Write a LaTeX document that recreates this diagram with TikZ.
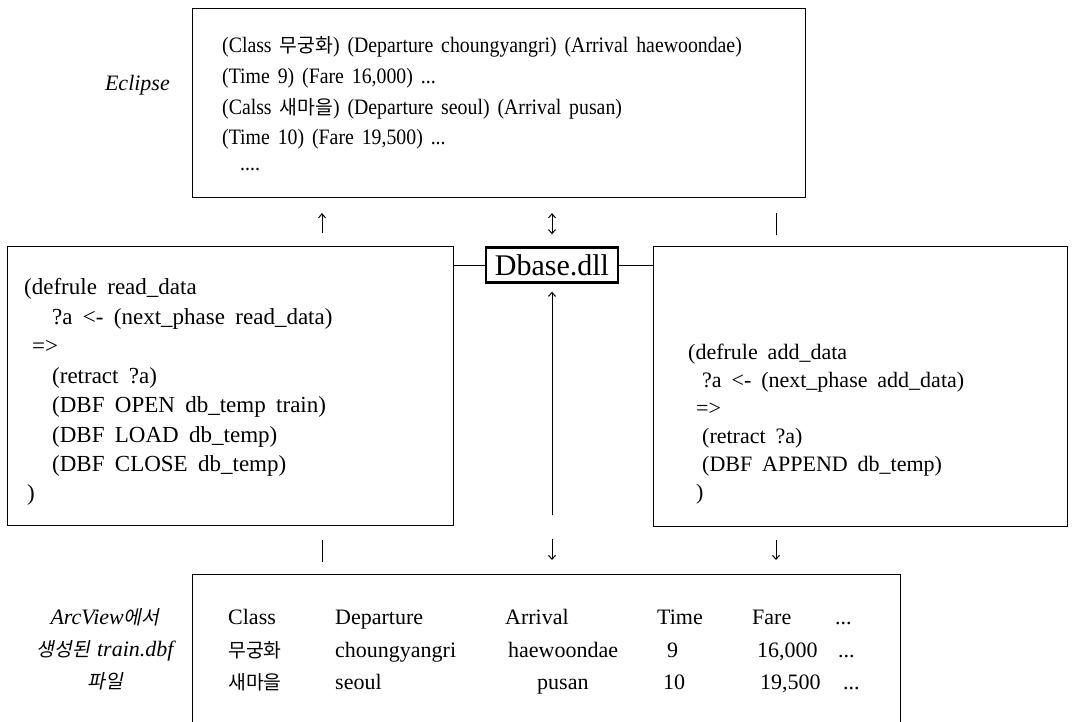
\documentclass[tikz,border=0pt]{standalone}
\usepackage{fontspec}
\setmainfont{Liberation Serif}[WordSpace=1.3]
\newfontfamily\topfont{Liberation Serif}[FakeStretch=0.9, WordSpace=1.6]
\newfontfamily\codefont{Liberation Serif}[WordSpace=2.2]
\newfontfamily\rcodefont{Liberation Serif}[WordSpace=1.8]
\newfontfamily\krfont{Noto Sans CJK KR}[Scale=0.88]
\newfontfamily\kritfont{Noto Sans CJK KR}[Scale=0.88, FakeSlant=0.2]
\newcommand{\ko}[1]{{\krfont #1}}
\newcommand{\koi}[1]{{\kritfont #1}}
\usetikzlibrary{arrows.meta}
\tikzset{
  box/.style={draw, line width=1.1pt, anchor=north west, inner sep=0pt},
  dllbox/.style={draw, line width=2.4pt, inner sep=0pt, minimum width=132pt, minimum height=35pt, font=\fontsize{30}{32}\selectfont},
  txt/.style={anchor=base west, inner sep=0pt},
  toptxt/.style={txt, font=\topfont\fontsize{22}{26}\selectfont},
  code/.style={txt, font=\codefont\fontsize{23}{26}\selectfont},
  rcode/.style={txt, font=\rcodefont\fontsize{22}{26}\selectfont},
  conn/.style={line width=1pt},
  arr/.style={conn, -{Straight Barb[length=4pt,width=7pt]}},
  darr/.style={conn, {Straight Barb[length=4pt,width=7pt]}-{Straight Barb[length=4pt,width=7pt]}},
}
\begin{document}
\begin{tikzpicture}[x=1pt, y=-1pt, font=\fontsize{22}{26}\selectfont]
\useasboundingbox (0,0) rectangle (1077,721);
% boxes
\node[box, minimum width=613pt, minimum height=189pt] (top) at (192,8) {};
\node[box, minimum width=446pt, minimum height=279pt] (left) at (7,246) {};
\node[box, minimum width=414pt, minimum height=280pt] (right) at (653,246) {};
\node[box, minimum width=708pt, minimum height=170pt] (bottom) at (192,574) {};
\node[dllbox] (dll) at (552,265) {Dbase.dll};
% column coordinates
\coordinate (xa) at (322,0);
\coordinate (xb) at (552,0);
\coordinate (xc) at (776,0);
\coordinate (d2) at (552,539);
% top box text
\node[toptxt] (t1) at (222,52) {(Class \ko{무궁화}) (Departure choungyangri) (Arrival haewoondae)};
\node[toptxt] (t2) at (222,83) {(Time 9) (Fare 16,000) ...};
\node[toptxt] (t3) at (222,114) {(Calss \ko{새마을}) (Departure seoul) (Arrival pusan)};
\node[toptxt] (t4) at (222,144) {(Time 10) (Fare 19,500) ...};
\node[toptxt] (t5) at (240,170) {....};
\node[anchor=base east, inner sep=0pt, font=\itshape\fontsize{22}{26}\selectfont] (ecl) at (170,90) {Eclipse};
% left box text
\node[code] (l1) at (24,294) {(defrule read\_data};
\node[code] (l2) at (52,324) {?a <- (next\_phase read\_data)};
\node[code] (l3) at (32,353) {=>};
\node[code] (l4) at (52,383) {(retract ?a)};
\node[code] (l5) at (52,412) {(DBF OPEN db\_temp train)};
\node[code] (l6) at (52,442) {(DBF LOAD db\_temp)};
\node[code] (l7) at (52,471) {(DBF CLOSE db\_temp)};
\node[code] (l8) at (27,500) {)};
% right box text
\node[rcode] (r1) at (688,359) {(defrule add\_data};
\node[rcode] (r2) at (702,387) {?a <- (next\_phase add\_data)};
\node[rcode] (r3) at (696,415) {=>};
\node[rcode] (r4) at (702,443) {(retract ?a)};
\node[rcode] (r5) at (702,471) {(DBF APPEND db\_temp)};
\node[rcode] (r6) at (696,499) {)};
% bottom table
\node[txt] (h1) at (228,624) {Class};
\node[txt] (h2) at (335,624) {Departure};
\node[txt] (h3) at (505,624) {Arrival};
\node[txt] (h4) at (657,624) {Time};
\node[txt] (h5) at (752,624) {Fare};
\node[txt] (h6) at (835,624) {...};
\node[txt] (a1) at (228,657) {\ko{무궁화}};
\node[txt] (a2) at (335,657) {choungyangri};
\node[txt] (a3) at (508,657) {haewoondae};
\node[txt] (a4) at (667,657) {9};
\node[txt] (a5) at (757,657) {16,000};
\node[txt] (a6) at (838,657) {...};
\node[txt] (b1) at (228,689) {\ko{새마을}};
\node[txt] (b2) at (335,689) {seoul};
\node[txt] (b3) at (537,689) {pusan};
\node[txt] (b4) at (663,689) {10};
\node[txt] (b5) at (760,689) {19,500};
\node[txt] (b6) at (843,689) {...};
\node[align=center, inner sep=0pt, font=\itshape\fontsize{22}{32}\selectfont] (lbl) at (105,649) {ArcView\koi{에서}\\\koi{생성된} train.dbf\\\koi{파일}};
% connectors
\draw[arr, shorten <=13pt, shorten >=15pt] (left.north -| xa) -- (top.south -| xa);
\draw[darr, shorten <=12pt, shorten >=15pt] (dll.north) -- (top.south -| xb);
\draw[conn, shorten <=11pt, shorten >=15pt] (right.north -| xc) -- (top.south -| xc);
\draw[conn] (dll.west -| left.east) -- (dll.west);
\draw[conn] (dll.east) -- (dll.east -| right.west);
\draw[arr, shorten <=59pt, shorten >=8pt] (bottom.north -| xb) -- (dll.south);
\draw[arr, shorten >=14pt] (d2) -- (bottom.north -| d2);
\draw[conn, shorten <=14pt, shorten >=12pt] (left.south -| xa) -- (bottom.north -| xa);
\draw[arr, shorten <=13pt, shorten >=14pt] (right.south -| xc) -- (bottom.north -| xc);
\end{tikzpicture}
\end{document}
